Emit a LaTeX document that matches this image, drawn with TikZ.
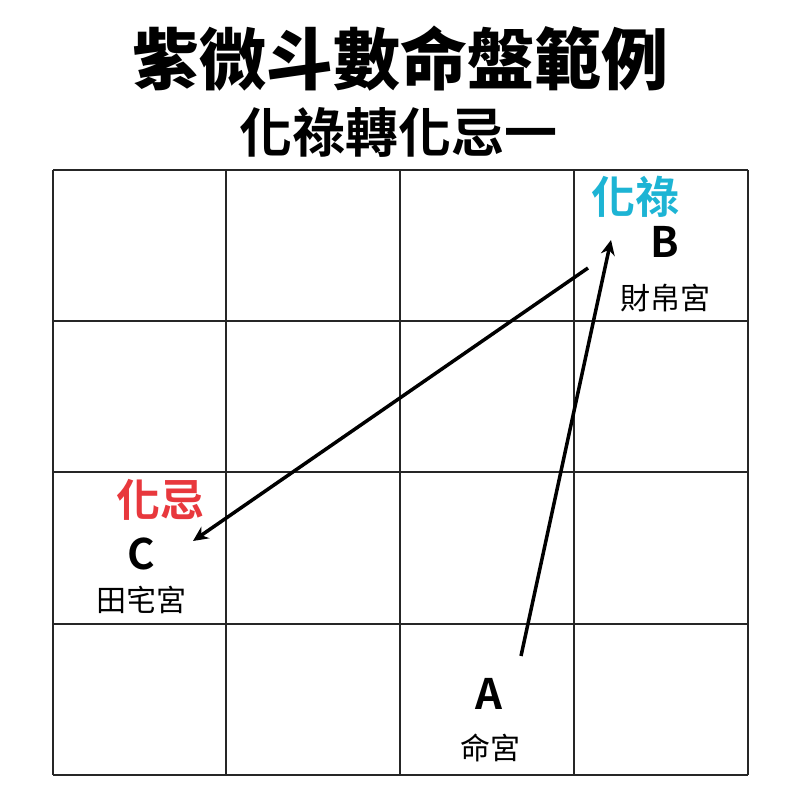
\documentclass[tikz,border=0pt]{standalone}
\usepackage{fontspec}
\setmainfont{Noto Sans CJK TC}
\newfontfamily\cjkbold{Noto Sans CJK TC Bold}
\newfontfamily\cjkblack{Noto Sans CJK TC Black}
\usetikzlibrary{arrows.meta,positioning}
\definecolor{lucyan}{HTML}{1DB4D4}
\definecolor{jired}{HTML}{E8383D}

\begin{document}
\begin{tikzpicture}
		[x=1pt,y=-1pt,
		title/.style ={font=\cjkblack\fontsize{67}{67}\selectfont},
		subtitle/.style ={font=\cjkbold\fontsize{53}{53}\selectfont},
		star/.style ={font=\cjkbold\fontsize{44}{44}\selectfont},
		palace/.style ={font=\cjkbold\fontsize{42}{42}\selectfont},
		gong/.style ={font=\fontsize{30}{30}\selectfont},
		cell/.style ={draw=black!85, line width=2pt},
		line/.style ={draw, line width=3.5pt, -{Stealth[length=15pt,width=14pt]}}]
		\useasboundingbox (0,0) rectangle (800,800);
		\fill[white] (0,0) rectangle (800,800);
		
		% board
		\foreach \x in {53,226,400,574,748}
		\draw[cell] (\x,170) -- (\x,775);
		\foreach \y in {170,321,472,624,775}
		\draw[cell] (53,\y) -- (748,\y);
		
		\node[title] (head) at (400,59) {紫微斗數命盤範例};
		\node[subtitle] (sub) at (398,132) {化祿轉化忌一};
		
		\node[star, text=lucyan] (lu) at (635,197) {化祿};
		\node[palace] (b) at (665,242) {B};
		\node[gong] (caibo) at (665,298) {財帛宮};
		
		\node[star, text=jired] (ji) at (160,500) {化忌};
		\node[palace] (c) at (141,554) {C};
		\node[gong] (tianzhai) at (141,600) {田宅宮};
		
		\node[palace] (a) at (489,694) {A};
		\node[gong] (ming) at (490,748) {命宮};
		
		\coordinate (afrom) at (521,656);
		\coordinate (bto) at (611,240);
		\coordinate (bfrom) at (588,268);
		\coordinate (cto) at (193,541);
		\path[line] (afrom) -- (bto);
		\path[line] (bfrom) -- (cto);

	\end{tikzpicture}
\end{document}
